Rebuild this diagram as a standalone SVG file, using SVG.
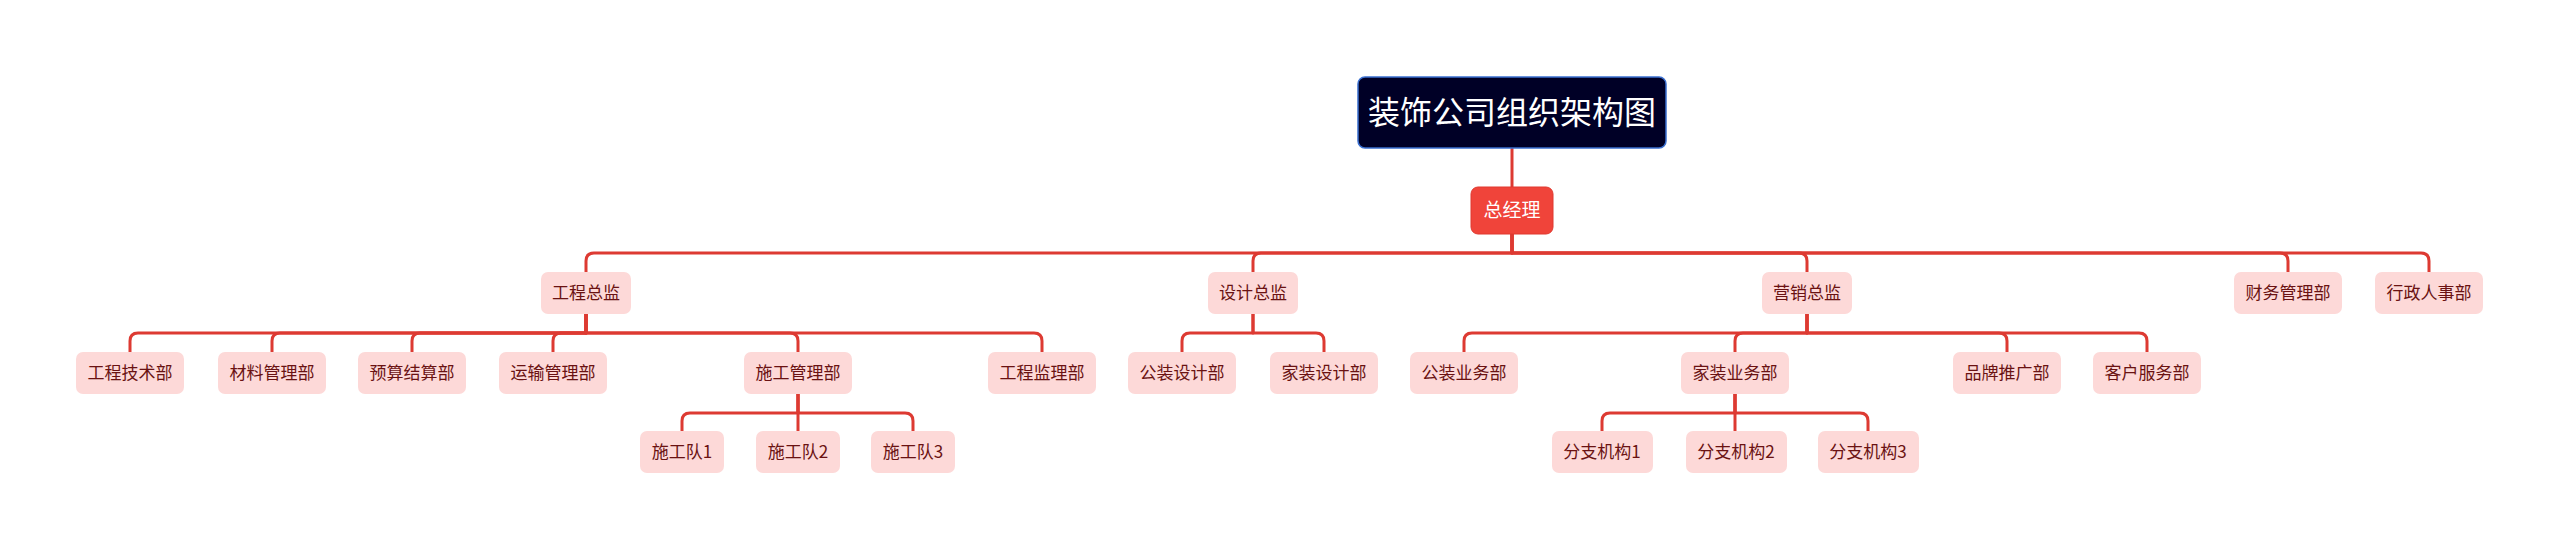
<svg xmlns="http://www.w3.org/2000/svg" width="2560" height="550" viewBox="0 0 2560 550">
<style>
.ln{fill:none;stroke:#dd3a32;stroke-width:3;stroke-linejoin:round}
.bx{fill:#fdd9d8}
.t{font-family:"Noto Sans CJK SC","Microsoft YaHei",sans-serif;font-size:17px;fill:#6a1212;text-anchor:middle}
.root{fill:#000026;stroke:#3a6fd0;stroke-width:1.5}
.rt{font-family:"Noto Sans CJK SC",sans-serif;font-size:32px;fill:#ffffff;text-anchor:middle}
.gm{fill:#f0443a;stroke:#e0392f;stroke-width:1}
.gt{font-family:"Noto Sans CJK SC",sans-serif;font-size:19px;fill:#ffffff;text-anchor:middle}
</style>
<rect width="2560" height="550" fill="#ffffff"/>
<g id="connectors">
<path class="ln" d="M1512,148 V187"/>
<path class="ln" d="M1512,234 V253 H594 Q586,253 586,261 V272"/>
<path class="ln" d="M1512,234 V253 H1261 Q1253,253 1253,261 V272"/>
<path class="ln" d="M1512,234 V253 H1799 Q1807,253 1807,261 V272"/>
<path class="ln" d="M1512,234 V253 H2280 Q2288,253 2288,261 V272"/>
<path class="ln" d="M1512,234 V253 H2421 Q2429,253 2429,261 V272"/>
<path class="ln" d="M586,314 V333 H138 Q130,333 130,341 V352"/>
<path class="ln" d="M586,314 V333 H280 Q272,333 272,341 V352"/>
<path class="ln" d="M586,314 V333 H420 Q412,333 412,341 V352"/>
<path class="ln" d="M586,314 V333 H561 Q553,333 553,341 V352"/>
<path class="ln" d="M586,314 V333 H790 Q798,333 798,341 V352"/>
<path class="ln" d="M586,314 V333 H1034 Q1042,333 1042,341 V352"/>
<path class="ln" d="M1253,314 V333 H1190 Q1182,333 1182,341 V352"/>
<path class="ln" d="M1253,314 V333 H1316 Q1324,333 1324,341 V352"/>
<path class="ln" d="M1807,314 V333 H1472 Q1464,333 1464,341 V352"/>
<path class="ln" d="M1807,314 V333 H1743 Q1735,333 1735,341 V352"/>
<path class="ln" d="M1807,314 V333 H1999 Q2007,333 2007,341 V352"/>
<path class="ln" d="M1807,314 V333 H2139 Q2147,333 2147,341 V352"/>
<path class="ln" d="M798,394 V413 H690 Q682,413 682,421 V431"/>
<path class="ln" d="M798,394 V431"/>
<path class="ln" d="M798,394 V413 H905 Q913,413 913,421 V431"/>
<path class="ln" d="M1735,394 V413 H1610 Q1602,413 1602,421 V431"/>
<path class="ln" d="M1735,394 V431"/>
<path class="ln" d="M1735,394 V413 H1860 Q1868,413 1868,421 V431"/>
</g>
<g id="root"><rect class="root" x="1358" y="77" width="308" height="71" rx="7"/><text class="rt" x="1512" y="124">装饰公司组织架构图</text></g>
<g id="gm"><rect class="gm" x="1471" y="187" width="82" height="47" rx="7"/><text class="gt" x="1512" y="217">总经理</text></g>
<g id="n-gczj"><rect class="bx" x="541" y="272" width="90" height="42" rx="7"/><text class="t" x="586" y="299">工程总监</text></g>
<g id="n-sjzj"><rect class="bx" x="1208" y="272" width="90" height="42" rx="7"/><text class="t" x="1253" y="299">设计总监</text></g>
<g id="n-yxzj"><rect class="bx" x="1762" y="272" width="90" height="42" rx="7"/><text class="t" x="1807" y="299">营销总监</text></g>
<g id="n-cwgl"><rect class="bx" x="2234" y="272" width="108" height="42" rx="7"/><text class="t" x="2288" y="299">财务管理部</text></g>
<g id="n-xzrs"><rect class="bx" x="2375" y="272" width="108" height="42" rx="7"/><text class="t" x="2429" y="299">行政人事部</text></g>
<g id="n-gcjs"><rect class="bx" x="76" y="352" width="108" height="42" rx="7"/><text class="t" x="130" y="379">工程技术部</text></g>
<g id="n-clgl"><rect class="bx" x="218" y="352" width="108" height="42" rx="7"/><text class="t" x="272" y="379">材料管理部</text></g>
<g id="n-ysjs"><rect class="bx" x="358" y="352" width="108" height="42" rx="7"/><text class="t" x="412" y="379">预算结算部</text></g>
<g id="n-ysgl"><rect class="bx" x="499" y="352" width="108" height="42" rx="7"/><text class="t" x="553" y="379">运输管理部</text></g>
<g id="n-sggl"><rect class="bx" x="744" y="352" width="108" height="42" rx="7"/><text class="t" x="798" y="379">施工管理部</text></g>
<g id="n-gcjl"><rect class="bx" x="988" y="352" width="108" height="42" rx="7"/><text class="t" x="1042" y="379">工程监理部</text></g>
<g id="n-gzsj"><rect class="bx" x="1128" y="352" width="108" height="42" rx="7"/><text class="t" x="1182" y="379">公装设计部</text></g>
<g id="n-jzsj"><rect class="bx" x="1270" y="352" width="108" height="42" rx="7"/><text class="t" x="1324" y="379">家装设计部</text></g>
<g id="n-gzyw"><rect class="bx" x="1410" y="352" width="108" height="42" rx="7"/><text class="t" x="1464" y="379">公装业务部</text></g>
<g id="n-jzyw"><rect class="bx" x="1681" y="352" width="108" height="42" rx="7"/><text class="t" x="1735" y="379">家装业务部</text></g>
<g id="n-pptg"><rect class="bx" x="1953" y="352" width="108" height="42" rx="7"/><text class="t" x="2007" y="379">品牌推广部</text></g>
<g id="n-khfw"><rect class="bx" x="2093" y="352" width="108" height="42" rx="7"/><text class="t" x="2147" y="379">客户服务部</text></g>
<g id="n-sgd1"><rect class="bx" x="640" y="431" width="84" height="42" rx="7"/><text class="t" x="682" y="458">施工队1</text></g>
<g id="n-sgd2"><rect class="bx" x="756" y="431" width="84" height="42" rx="7"/><text class="t" x="798" y="458">施工队2</text></g>
<g id="n-sgd3"><rect class="bx" x="871" y="431" width="84" height="42" rx="7"/><text class="t" x="913" y="458">施工队3</text></g>
<g id="n-fz1"><rect class="bx" x="1552" y="431" width="101" height="42" rx="7"/><text class="t" x="1602" y="458">分支机构1</text></g>
<g id="n-fz2"><rect class="bx" x="1686" y="431" width="101" height="42" rx="7"/><text class="t" x="1736" y="458">分支机构2</text></g>
<g id="n-fz3"><rect class="bx" x="1818" y="431" width="101" height="42" rx="7"/><text class="t" x="1868" y="458">分支机构3</text></g>
</svg>
